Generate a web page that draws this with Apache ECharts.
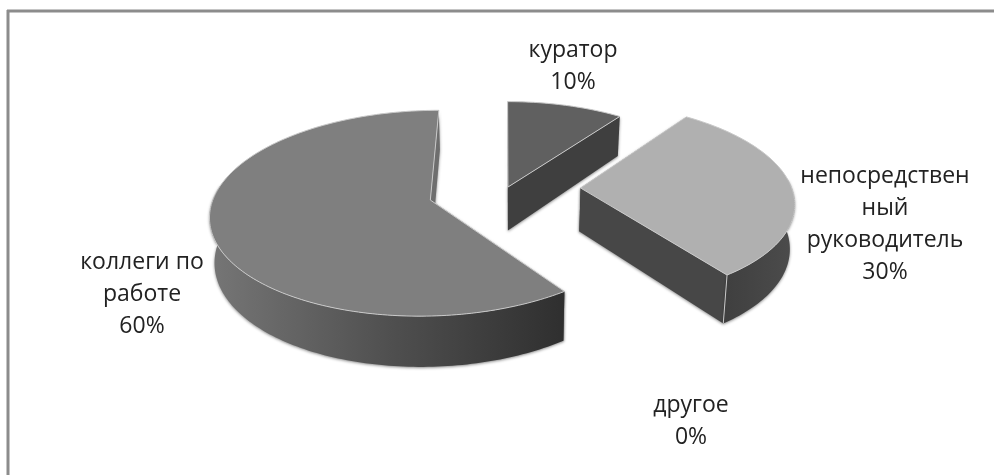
<!DOCTYPE html>
<html><head><meta charset="utf-8">
<style>html,body{margin:0;padding:0;background:#fff}#c{width:994px;height:475px}</style>
<script src="https://cdn.jsdelivr.net/npm/echarts@6/dist/echarts.min.js"></script>
</head><body><div id="c"></div>
<script>
const categories = ['куратор', 'непосредственный руководитель', 'другое', 'коллеги по работе'];
const labelLines = [['куратор'], ['непосредствен', 'ный', 'руководитель'], ['другое'], ['коллеги по', 'работе']];
const values = [10, 30, 0, 60];
const topColors = ['#606060', '#b0b0b0', '#8c8c8c', '#7f7f7f'];

// projection of the tilted pie plane
const Xv = 505, Yv = -590, C = 0.0012853, D = 0.000159, M = 0.27;
const depthK = 0.056, xShrink = 0.983;
const apex = [[0.014, 0.01], [0.36, 0], [0, 0], [-0.35, -0.123]];
const radius = [1, 1.005, 1, 1.02];
const labelPos = [[573, 50], [885, 176], [691, 405], [142, 262]];
const lineH = 32;

function project(U, V) {
  const w = C + D * V;
  return [Xv + M * U / w, Yv + 1 / w];
}
function lower(p) {
  return [Xv + (p[0] - Xv) * xShrink, p[1] + depthK * (p[1] - Yv)];
}
const total = values.reduce((a, b) => a + b, 0);
const starts = [];
values.reduce((a, v, i) => (starts[i] = a, a + v), 0);

function arc(i, a0, a1) {
  const pts = [], n = Math.max(2, Math.ceil((a1 - a0) / 0.02));
  for (let k = 0; k <= n; k++) {
    const t = a0 + (a1 - a0) * k / n;
    pts.push(project(apex[i][0] + radius[i] * Math.sin(t), apex[i][1] + radius[i] * Math.cos(t)));
  }
  return pts;
}
const wallShadow = { shadowBlur: 3, shadowColor: 'rgba(0,0,0,0.45)', shadowOffsetY: 1 };
const seam = '#c9c9c9';
function poly(points, style) {
  return { type: 'polygon', shape: { points }, style, silent: true };
}
function renderItem(params, api) {
  const i = params.dataIndex;
  const children = [];
  const v = api.value(1);
  const a0 = starts[i] / total * 2 * Math.PI, a1 = (starts[i] + v) / total * 2 * Math.PI;
  const pct = Math.round(v / total * 100) + '%';
  if (v > 0) {
    const outer = arc(i, a0, a1);
    const c = project(apex[i][0], apex[i][1]);
    const wallA = [c, outer[0], lower(outer[0]), lower(c)];
    const last = outer[outer.length - 1];
    const wallB = [c, last, lower(last), lower(c)];
    const wallCol = i === 0 ? '#3f3f3f' : i === 1 ? '#474747' : '#6e6e6e';
    children.push(poly(wallA, Object.assign({ fill: wallCol }, wallShadow)));
    children.push(poly(wallB, Object.assign({ fill: wallCol }, wallShadow)));
    const lo = Math.max(a0, Math.PI * 0.47), hi = Math.min(a1, Math.PI * 1.55);
    if (hi > lo) {
      const rim = arc(i, lo, hi);
      const ring = rim.concat(rim.map(lower).reverse());
      const fill = i === 3
        ? { type: 'linear', x: 0, y: 0, x2: 1, y2: 0, colorStops: [
            { offset: 0, color: '#767676' }, { offset: 0.5, color: '#505050' }, { offset: 1, color: '#2f2f2f' }] }
        : { type: 'linear', x: 0, y: 0, x2: 1, y2: 0, colorStops: [
            { offset: 0, color: '#3f3f3f' }, { offset: 1, color: '#4c4c4c' }] };
      children.push(poly(ring, Object.assign({ fill }, wallShadow)));
      const e = rim[rim.length - 1];
      if (i === 1) children.push({ type: 'line', shape: { x1: e[0], y1: e[1], x2: lower(e)[0], y2: lower(e)[1] }, style: { stroke: seam, lineWidth: 1 }, silent: true });
    }
    children.push(poly([c].concat(outer), { fill: topColors[i], stroke: seam, lineWidth: 1, lineJoin: 'round' }));
  }
  const lines = labelLines[i].concat([pct]);
  lines.forEach((t, k) => children.push({
    type: 'text', silent: true,
    style: { text: t, x: labelPos[i][0], y: labelPos[i][1] + k * lineH, align: 'center', verticalAlign: 'middle',
      fill: '#222222', font: '23px "Open Sans", "Noto Sans", sans-serif' }
  }));
  return { type: 'group', children };
}
const chart = echarts.init(document.getElementById('c'), null, { renderer: 'canvas' });
chart.setOption({
  animation: false,
  backgroundColor: '#ffffff',
  graphic: [
    { type: 'line', shape: { x1: 7, y1: 11, x2: 994, y2: 11 }, style: { stroke: '#8c8c8c', lineWidth: 3 } },
    { type: 'line', shape: { x1: 8, y1: 10, x2: 8, y2: 475 }, style: { stroke: '#8c8c8c', lineWidth: 3 } }
  ],
  series: [{
    type: 'custom',
    coordinateSystem: 'none',
    renderItem,
    data: categories.map((n, i) => ({ name: n, value: [i, values[i]] }))
  }]
});
</script></body></html>
